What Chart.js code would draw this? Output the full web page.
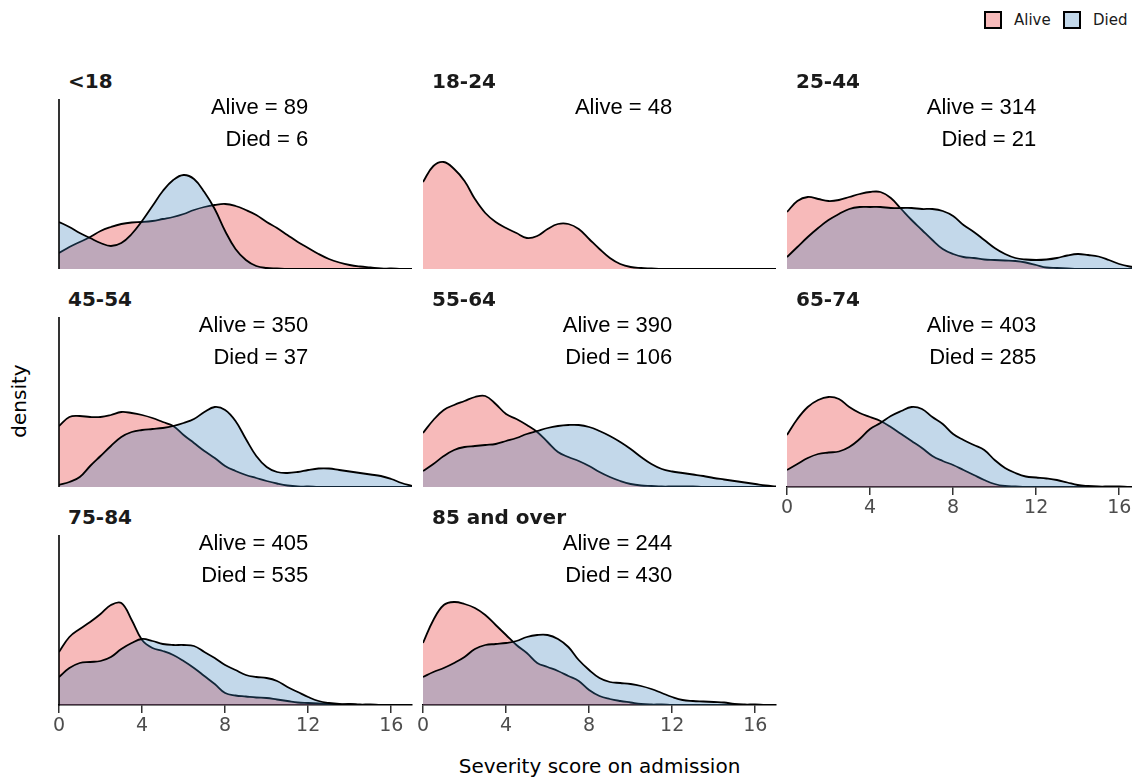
<!DOCTYPE html>
<html>
<head>
<meta charset="utf-8">
<script src="https://cdn.jsdelivr.net/npm/chart.js@4.4.1/dist/chart.umd.min.js"></script>
<style>
html,body{margin:0;padding:0;background:#fff;}
#page{position:relative;width:1132px;height:780px;overflow:hidden;background:#fff;}
#page canvas{position:absolute;}
.title{position:absolute;font-family:"DejaVu Sans";font-weight:bold;font-size:20px;color:#1a1a1a;line-height:24px;white-space:nowrap;}
.note{position:absolute;font-family:"Liberation Sans";font-size:22px;color:#000;line-height:32px;text-align:right;width:240px;white-space:nowrap;}
.key{position:absolute;width:18px;height:18px;box-sizing:border-box;border:2px solid #000;}
.keytxt{position:absolute;font-family:"DejaVu Sans";font-size:15px;color:#1a1a1a;line-height:20px;white-space:nowrap;}
.axtitle{position:absolute;font-family:"DejaVu Sans";font-size:20px;color:#000;line-height:24px;white-space:nowrap;}
</style>
</head>
<body>
<div id="page">
  <div class="key" style="left:984px;top:11px;background:rgba(228,26,28,0.3);"></div>
  <div class="keytxt" style="left:1014px;top:10px;">Alive</div>
  <div class="key" style="left:1063px;top:11px;background:rgba(55,126,184,0.3);"></div>
  <div class="keytxt" style="left:1093px;top:10px;">Died</div>
  <div class="axtitle" style="left:0;width:1199px;text-align:center;top:754px;">Severity score on admission</div>
  <div class="axtitle" style="left:-31px;top:389px;width:100px;text-align:center;transform:rotate(-90deg);">density</div>
</div>
<script>
// ---------- data ----------
const scores = [0,0.5,1,1.5,2,2.5,3,3.5,4,4.5,5,5.5,6,6.5,7,7.5,8,8.5,9,9.5,10,10.5,11,11.5,12,12.5,13,13.5,14,14.5,15,15.5,16,16.5,17];
const xTicks = [0,4,8,12,16];
const ageGroups = ["<18","18-24","25-44","45-54","55-64","65-74","75-84","85 and over"];
const aliveCounts = [89,48,314,350,390,403,405,244];
const diedCounts = [6,null,21,37,106,285,535,430];

const aliveLt18 = [0.032,0.044,0.054,0.064,0.076,0.084,0.090,0.093,0.094,0.096,0.100,0.104,0.110,0.118,0.124,0.128,0.130,0.126,0.118,0.108,0.094,0.082,0.068,0.054,0.042,0.030,0.020,0.013,0.008,0.005,0.003,0.001,0.001,0,0];
const diedLt18 = [0.094,0.084,0.072,0.062,0.052,0.046,0.052,0.070,0.096,0.126,0.156,0.178,0.188,0.180,0.154,0.120,0.076,0.040,0.018,0.006,0.002,0.001,0,0,0,0,0,0,0,0,0,0,0,0,0];
const alive18to24 = [0.174,0.206,0.214,0.200,0.176,0.140,0.112,0.094,0.082,0.072,0.062,0.066,0.080,0.090,0.090,0.080,0.060,0.040,0.022,0.010,0.004,0.002,0.001,0,0,0,0,0,0,0,0,0,0,0,0];
const alive25to44 = [0.114,0.136,0.144,0.140,0.136,0.138,0.144,0.150,0.154,0.154,0.142,0.120,0.098,0.078,0.058,0.040,0.030,0.024,0.022,0.019,0.018,0.017,0.016,0.013,0.008,0.003,0.002,0.001,0,0,0,0,0,0,0];
const died25to44 = [0.024,0.044,0.064,0.082,0.098,0.110,0.120,0.124,0.124,0.124,0.122,0.122,0.122,0.120,0.120,0.116,0.106,0.088,0.074,0.058,0.042,0.030,0.022,0.019,0.018,0.019,0.022,0.027,0.030,0.028,0.025,0.018,0.010,0.005,0.002];
const alive45to54 = [0.122,0.140,0.142,0.140,0.140,0.144,0.150,0.148,0.144,0.138,0.130,0.122,0.104,0.088,0.072,0.058,0.042,0.032,0.024,0.018,0.012,0.007,0.003,0.001,0.001,0,0,0,0,0,0,0,0,0,0];
const died45to54 = [0.004,0.010,0.020,0.042,0.062,0.082,0.100,0.110,0.114,0.116,0.118,0.122,0.128,0.136,0.150,0.160,0.154,0.132,0.096,0.062,0.040,0.030,0.028,0.030,0.034,0.037,0.037,0.034,0.031,0.028,0.025,0.022,0.016,0.008,0.002];
const alive55to64 = [0.108,0.134,0.154,0.164,0.172,0.180,0.182,0.166,0.146,0.136,0.124,0.110,0.090,0.070,0.060,0.052,0.042,0.030,0.020,0.012,0.006,0.003,0.002,0.001,0.001,0.001,0.001,0,0,0,0,0,0,0,0];
const died55to64 = [0.032,0.046,0.062,0.074,0.080,0.082,0.084,0.086,0.092,0.098,0.106,0.112,0.118,0.122,0.124,0.124,0.120,0.112,0.102,0.090,0.076,0.060,0.046,0.036,0.031,0.028,0.025,0.022,0.018,0.015,0.012,0.009,0.006,0.003,0.001];
const alive65to74 = [0.104,0.136,0.160,0.174,0.180,0.176,0.160,0.148,0.140,0.132,0.120,0.106,0.092,0.078,0.062,0.052,0.044,0.034,0.024,0.014,0.006,0.002,0.001,0,0,0,0,0,0,0,0,0,0,0,0];
const died65to74 = [0.034,0.046,0.058,0.066,0.069,0.071,0.080,0.096,0.116,0.128,0.142,0.152,0.160,0.156,0.140,0.126,0.106,0.094,0.084,0.074,0.054,0.038,0.028,0.021,0.019,0.017,0.014,0.009,0.004,0.002,0.001,0.001,0.001,0,0];
const alive75to84 = [0.106,0.136,0.152,0.166,0.182,0.200,0.204,0.170,0.130,0.114,0.108,0.100,0.088,0.074,0.058,0.042,0.024,0.019,0.017,0.015,0.014,0.011,0.008,0.005,0.004,0.003,0.002,0.001,0.001,0,0,0,0,0,0];
const died75to84 = [0.056,0.074,0.084,0.086,0.088,0.096,0.112,0.124,0.132,0.128,0.122,0.120,0.120,0.118,0.106,0.094,0.080,0.070,0.060,0.056,0.054,0.048,0.036,0.026,0.016,0.008,0.004,0.002,0.002,0.001,0.001,0,0,0,0];
const alive85plus = [0.124,0.170,0.200,0.206,0.202,0.194,0.180,0.160,0.140,0.120,0.104,0.084,0.076,0.068,0.058,0.048,0.030,0.018,0.012,0.008,0.005,0.002,0.001,0.001,0,0,0,0,0,0,0,0,0,0,0];
const died85plus = [0.056,0.066,0.074,0.084,0.096,0.112,0.120,0.122,0.124,0.128,0.136,0.140,0.140,0.132,0.116,0.090,0.070,0.054,0.046,0.044,0.042,0.038,0.032,0.024,0.016,0.010,0.008,0.007,0.006,0.005,0.002,0.001,0.001,0,0];

const aliveSeries = [aliveLt18, alive18to24, alive25to44, alive45to54, alive55to64, alive65to74, alive75to84, alive85plus];
const diedSeries = [diedLt18, null, died25to44, died45to54, died55to64, died65to74, died75to84, died85plus];

// ---------- layout ----------
const COL_LEFT = [59, 423, 787];
const ROW_BASE = [269, 487, 705];
const PW = 353, PH = 170, PADX = 14, PADT = 4, AXIS_H = 40;
const Y_MAX = 0.34, X_MAX = 17, NOTE_X = 12;

const yAxisLine = {
  id: 'yAxisLine',
  afterDatasetsDraw(chart, args, opts) {
    if (!opts.show) return;
    const ctx = chart.ctx, a = chart.chartArea;
    ctx.save();
    ctx.strokeStyle = '#000';
    ctx.lineWidth = 1.6;
    ctx.beginPath();
    ctx.moveTo(a.left, a.top);
    ctx.lineTo(a.left, a.bottom + 0.8);
    ctx.stroke();
    ctx.restore();
  }
};

const page = document.getElementById('page');
Chart.defaults.font.family = 'DejaVu Sans';

ageGroups.forEach((g, i) => {
  const col = i % 3, row = Math.floor(i / 3);
  const bottom = i + 3 >= ageGroups.length;
  const w = PW + 2 * PADX, h = PADT + PH + (bottom ? AXIS_H : 0);
  const canvas = document.createElement('canvas');
  canvas.width = w; canvas.height = h;
  canvas.style.left = (COL_LEFT[col] - PADX) + 'px';
  canvas.style.top = (ROW_BASE[row] - PH - PADT) + 'px';
  canvas.style.width = w + 'px'; canvas.style.height = h + 'px';
  page.appendChild(canvas);

  const line = {
    borderColor: '#000', borderWidth: 1.8, pointRadius: 0, fill: 'origin',
    cubicInterpolationMode: 'default', tension: 0.4
  };
  const datasets = [Object.assign({
    label: 'Alive', order: 2,
    backgroundColor: 'rgba(228,26,28,0.3)',
    data: scores.map((s, k) => ({x: s, y: aliveSeries[i][k]}))
  }, line)];
  if (diedSeries[i]) {
    datasets.push(Object.assign({
      label: 'Died', order: 1,
      backgroundColor: 'rgba(55,126,184,0.3)',
      data: scores.map((s, k) => ({x: s, y: diedSeries[i][k]}))
    }, line));
  }

  const xScale = { type: 'linear', min: 0, max: X_MAX, display: bottom };
  if (bottom) {
    Object.assign(xScale, {
      afterFit(s) { s.height = AXIS_H; s.paddingLeft = 0; s.paddingRight = 0; },
      afterBuildTicks(s) { s.ticks = xTicks.map(v => ({value: v})); },
      ticks: { font: {size: 19, family: 'DejaVu Sans'}, color: '#4D4D4D', padding: 2, maxRotation: 0, autoSkip: false },
      grid: { display: true, drawOnChartArea: false, drawTicks: true, tickLength: 8, color: '#333333', lineWidth: 1.5 },
      border: { display: true, color: '#000', width: 1.6 }
    });
  }

  new Chart(canvas, {
    type: 'line',
    data: { datasets },
    options: {
      responsive: false, animation: false, events: [],
      devicePixelRatio: 1,
      layout: { padding: { left: PADX, right: PADX, top: PADT, bottom: 0 } },
      scales: {
        x: xScale,
        y: { type: 'linear', min: 0, max: Y_MAX, display: false }
      },
      plugins: { legend: { display: false }, tooltip: { enabled: false }, yAxisLine: { show: col === 0 } }
    },
    plugins: [yAxisLine]
  });

  const t = document.createElement('div');
  t.className = 'title';
  t.textContent = g;
  t.style.left = (COL_LEFT[col] + 9) + 'px';
  t.style.top = (ROW_BASE[row] - 188 - 12) + 'px';
  page.appendChild(t);

  const n = document.createElement('div');
  n.className = 'note';
  const right = COL_LEFT[col] + NOTE_X * PW / X_MAX;
  n.style.left = (right - 240) + 'px';
  n.style.top = (ROW_BASE[row] - 162 - 16) + 'px';
  n.innerHTML = 'Alive = ' + aliveCounts[i] + (diedCounts[i] != null ? '<br>Died = ' + diedCounts[i] : '');
  page.appendChild(n);
});
</script>
</body>
</html>
